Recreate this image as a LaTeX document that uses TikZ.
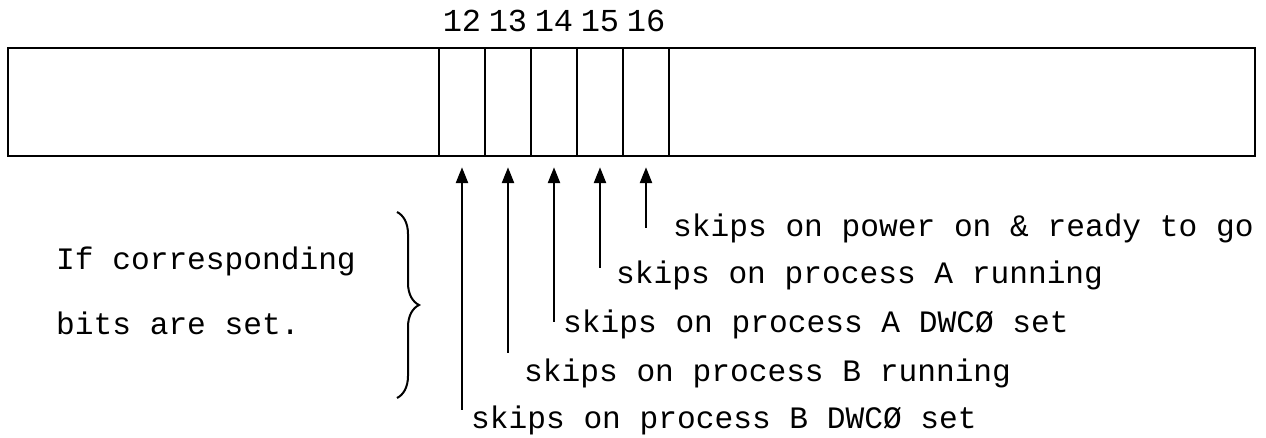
\documentclass[tikz,border=0pt]{standalone}
\usepackage{fontspec}
\setmonofont{Liberation Mono}
\usetikzlibrary{arrows.meta,decorations.pathreplacing}

\begin{document}
	\begin{tikzpicture}[x=0.5pt,y=-0.5pt,
		line width=1.2pt,
		cell/.style={draw,minimum width=23pt,minimum height=54pt,inner sep=0pt},
		bitnum/.style={font=\ttfamily\fontsize{16}{18}\selectfont,anchor=base,inner sep=0pt},
		skiptext/.style={font=\ttfamily\fontsize{15.6}{18}\selectfont,anchor=base west,inner sep=0pt},
		skiparrow/.style={-{Triangle[length=8pt,width=6pt]},shorten >=5pt}]
		\useasboundingbox(0,0)rectangle(1266,438);
		\pgfmathsetmacro{\cellw}{46}
		\node[draw,minimum width=623.5pt,minimum height=54pt,inner sep=0pt](word)at(631.5,102){};
		\foreach \b [count=\i from 0] in {12,...,16}{
			\node[cell](b\b)at({462+\cellw*\i},102){};
			\node[bitnum](n\b)at([yshift=7.5pt]b\b.north){\b};
		}

		\node[skiptext](l16)at(672,237){skips on power on \& ready to go};
		\node[skiptext](l15)at(615,284){skips on process A running};
		\node[skiptext](l14)at(562,333){skips on process A DWCØ set};
		\node[skiptext](l13)at(523,382){skips on process B running};
		\node[skiptext](l12)at(470,429){skips on process B DWCØ set};

		\coordinate(t16)at(b16.south|-0,228);
		\coordinate(t15)at(b15.south|-0,268);
		\coordinate(t14)at(b14.south|-0,322);
		\coordinate(t13)at(b13.south|-0,353);
		\coordinate(t12)at(b12.south|-0,410);
		\foreach \b in {12,...,16}
			\draw[skiparrow](t\b)--(b\b.south);

		\node[skiptext](cond1)at(55,270){If corresponding};
		\node[skiptext](cond2)at(55,335){bits are set.};
		\coordinate(brtop)at(397,212);
		\coordinate(brbot)at(397,398);
		\draw[line width=1pt,decorate,decoration={brace,amplitude=11pt}](brtop)--(brbot);

	\end{tikzpicture}
\end{document}
